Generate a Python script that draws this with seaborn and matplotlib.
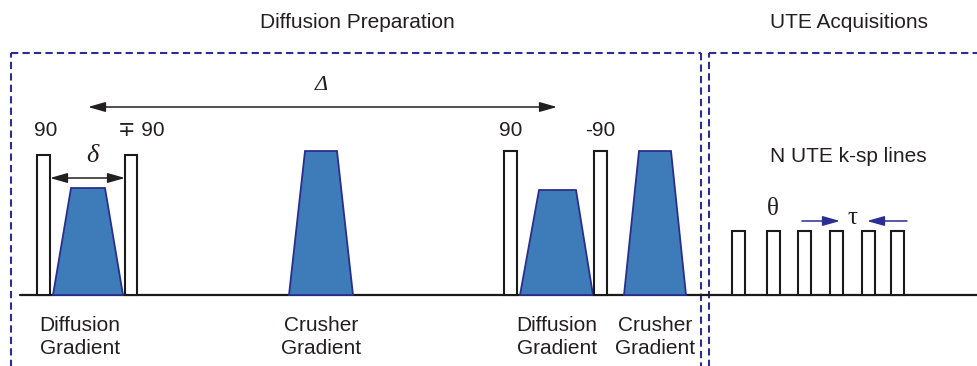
import matplotlib
matplotlib.use("Agg")
import matplotlib.pyplot as plt
import seaborn as sns
import numpy as np

# pulse sequence layout (pixel units, y grows downward)
baseline_y = 295
baseline_x = [20, 978]

# RF pulses of the diffusion preparation: left, right, top
rf_left = [37, 125, 504, 594]
rf_right = [50, 137, 517, 607]
rf_top = [155, 155, 151, 151]
rf_labels = ["90", "\u2213 90", "90", "-90"]
rf_label_x = [46, 141, 511, 600]

# gradient trapezoids: base left/right, top left/right, top level
grad_base_l = [53, 289, 520, 624]
grad_base_r = [123, 353, 593, 686]
grad_top_l = [71, 305, 539, 639]
grad_top_r = [105, 337, 576, 671]
grad_top_y = [188, 151, 190, 151]
grad_labels = ["Diffusion\nGradient", "Crusher\nGradient",
               "Diffusion\nGradient", "Crusher\nGradient"]
grad_label_x = [80, 321, 557, 655]

# UTE excitation pulses
ute_left = [732, 767, 798, 830, 862, 891]
ute_width = 13
ute_top = 231

# dashed boxes
box1 = [11, 701]
box2 = [709, 990]
box_top = 53

sns.set_style("white")
plt.rcParams["font.family"] = ["Liberation Sans", "DejaVu Sans"]

fig = plt.figure(figsize=(9.78, 3.66), dpi=100)
ax = fig.add_axes([0, 0, 1, 1])
ax.set_xlim(0, 978)
ax.set_ylim(366, 0)
ax.axis("off")

box_col = "#2b2e92"
dash = (0, (3.5, 2.0))
for l, r in [box1, box2]:
    ax.plot([l, l], [400, box_top], color=box_col, lw=1.5, linestyle=dash)
    ax.plot([l, r], [box_top, box_top], color=box_col, lw=1.5, linestyle=dash)
ax.plot([box1[1], box1[1]], [box_top, 400], color=box_col, lw=1.5, linestyle=dash)

sns.lineplot(x=baseline_x, y=[baseline_y, baseline_y], ax=ax, color="#1a1a1a", lw=1.6)

fill_col = "#3d7bb9"
edge_col = "#2b2e8c"
for bl, br, tl, tr, ty in zip(grad_base_l, grad_base_r, grad_top_l, grad_top_r, grad_top_y):
    ax.fill([bl, tl, tr, br], [baseline_y, ty, ty, baseline_y],
            facecolor=fill_col, edgecolor=edge_col, lw=1.3, zorder=3)

for l, r, t in zip(rf_left, rf_right, rf_top):
    ax.fill([l, l, r, r], [baseline_y, t, t, baseline_y],
            facecolor="white", edgecolor="#1a1a1a", lw=1.5, zorder=3)
for l in ute_left:
    ax.fill([l, l, l + ute_width, l + ute_width], [baseline_y, ute_top, ute_top, baseline_y],
            facecolor="white", edgecolor="#1a1a1a", lw=1.5, zorder=3)

fs = 15
txt = "#231f20"
for x, s in zip(rf_label_x, rf_labels):
    ax.text(x, 131, s, fontsize=fs, ha="center", va="center", color=txt)
for x, s in zip(grad_label_x, grad_labels):
    ax.text(x, 337, s, fontsize=fs, ha="center", va="center", color=txt,
            linespacing=1.25)

ax.text(357, 22, "Diffusion Preparation", fontsize=fs, ha="center", va="center", color=txt)
ax.text(849, 22, "UTE Acquisitions", fontsize=fs, ha="center", va="center", color=txt)
ax.text(848, 157, "N UTE k-sp lines", fontsize=fs, ha="center", va="center", color=txt)

# Delta and delta arrows
head = "<|-|>,head_length=0.7,head_width=0.2"
ax.annotate("", xy=(88, 107), xytext=(557, 107),
            arrowprops=dict(arrowstyle=head, color=txt, lw=1.1, mutation_scale=15,
                            shrinkA=0, shrinkB=0))
ax.text(321, 86, "\u0394", fontsize=fs + 1, family="Liberation Serif", style="italic",
        ha="center", va="center", color=txt)
ax.annotate("", xy=(50, 178), xytext=(125, 178),
            arrowprops=dict(arrowstyle=head, color=txt, lw=1.1, mutation_scale=15,
                            shrinkA=0, shrinkB=0))
ax.text(92, 156, "\u03b4", fontsize=fs + 4, family="Liberation Serif", style="italic",
        ha="center", va="center", color=txt)

# tau arrows
tau_col = "#2b2e92"
one = "-|>,head_length=0.7,head_width=0.2"
ax.annotate("", xy=(840, 221), xytext=(802, 221),
            arrowprops=dict(arrowstyle=one, color=tau_col, lw=1.1, mutation_scale=15,
                            shrinkA=0, shrinkB=0))
ax.annotate("", xy=(867, 221), xytext=(907, 221),
            arrowprops=dict(arrowstyle=one, color=tau_col, lw=1.1, mutation_scale=15,
                            shrinkA=0, shrinkB=0))
ax.text(852, 218, "\u03c4", fontsize=fs + 3, family="Liberation Serif",
        ha="center", va="center", color=txt)
ax.text(773, 209, "\u03b8", fontsize=fs + 3, family="Liberation Serif",
        ha="center", va="center", color=txt)

fig.savefig("out.png", dpi=100)
